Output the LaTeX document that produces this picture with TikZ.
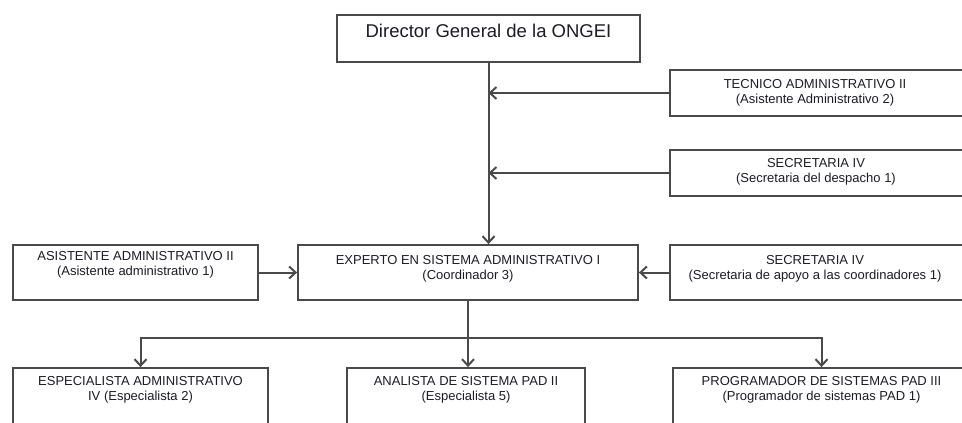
\documentclass[tikz,border=0pt]{standalone}
\usepackage{fontspec}
\setmainfont{Liberation Sans}
\usetikzlibrary{positioning,arrows.meta}
\definecolor{linea}{HTML}{4A4A4A}
\definecolor{texto}{HTML}{1E1A26}

\begin{document}
\begin{tikzpicture}[x=1pt, y=-1pt,
  cargo/.style={draw=linea, line width=1.8pt, rectangle, inner sep=0pt},
  nombre/.style={align=center, inner sep=0pt, text=texto, font=\fontsize{13}{15}\selectfont},
  conector/.style={draw=linea, line width=2pt},
  >={Straight Barb[length=6.5pt,width=12pt]}]
  \path[use as bounding box, clip] (0,0) rectangle (962,423);

  % cajas
  \node[cargo, minimum width=303pt, minimum height=47pt] (dir) at (488.5,38.5) {};
  \node[cargo, minimum width=300pt, minimum height=46pt] (tec) at (820,93) {};
  \node[cargo, minimum width=300pt, minimum height=46pt] (sec1) at (820,173) {};
  \node[cargo, minimum width=245pt, minimum height=55pt] (asi) at (135.5,272.5) {};
  \node[cargo, minimum width=340pt, minimum height=55pt] (exp) at (468,272.5) {};
  \node[cargo, minimum width=300pt, minimum height=55pt] (sec2) at (820,272.5) {};
  \node[cargo, minimum width=255pt, minimum height=80pt] (esp) at (140.5,408) {};
  \node[cargo, minimum width=238pt, minimum height=80pt] (ana) at (466,408) {};
  \node[cargo, minimum width=297pt, minimum height=80pt] (pro) at (821.5,408) {};

  % textos
  \node[nombre, font=\fontsize{18.5}{20}\selectfont, below=10pt of dir.north] (dirt) {Director General de la ONGEI};
  \node[nombre, below=10pt of tec.north, xshift=-5pt] (tect) {TECNICO ADMINISTRATIVO II\\(Asistente Administrativo 2)};
  \node[nombre, below=9pt of sec1.north, xshift=-4pt] (sec1t) {SECRETARIA IV\\(Secretaria del despacho 1)};
  \node[nombre, below=7pt of asi.north] (asit) {ASISTENTE ADMINISTRATIVO II\\(Asistente administrativo 1)};
  \node[nombre, below=11pt of exp.north] (expt) {EXPERTO EN SISTEMA ADMINISTRATIVO I\\(Coordinador 3)};
  \node[nombre, below=11pt of sec2.north, xshift=-5pt] (sec2t) {SECRETARIA IV\\(Secretaria de apoyo a las coordinadores 1)};
  \node[nombre, below=9pt of esp.north] (espt) {ESPECIALISTA ADMINISTRATIVO\\IV (Especialista 2)};
  \node[nombre, below=9pt of ana.north] (anat) {ANALISTA DE SISTEMA PAD II\\(Especialista 5)};
  \node[nombre, below=9pt of pro.north] (prot) {PROGRAMADOR DE SISTEMAS PAD III\\(Programador de sistemas PAD 1)};

  % conectores
  \coordinate (bus) at (468,338);
  \draw[conector, ->] (dir.south) -- (dir.south |- exp.north);
  \draw[conector, ->] (tec.west) -- (tec.west -| dir.south);
  \draw[conector, ->] (sec1.west) -- (sec1.west -| dir.south);
  \draw[conector, ->] (asi.east) -- (exp.west);
  \draw[conector, ->] (sec2.west) -- (exp.east);
  \draw[conector] (exp.south) -- (bus);
  \draw[conector, ->] (bus) -- (bus |- ana.north);
  \draw[conector, ->] (bus) -| (esp.north);
  \draw[conector, ->] (bus) -| (pro.north);
\end{tikzpicture}
\end{document}
